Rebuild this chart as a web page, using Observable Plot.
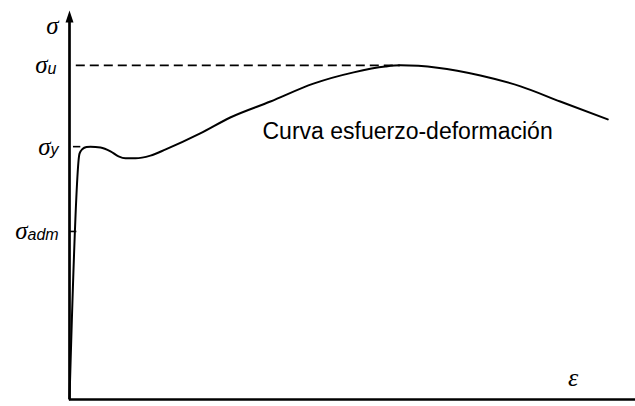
<!DOCTYPE html>
<html>
<head>
<meta charset="utf-8">
<script src="https://cdn.jsdelivr.net/npm/d3@7"></script>
<script src="https://cdn.jsdelivr.net/npm/@observablehq/plot@0.6"></script>
<style>
  html, body { margin: 0; padding: 0; background: #fff; }
  svg { display: block; }
</style>
</head>
<body>
<div id="chart"></div>
<script>
// Strain (ε) and stress (σ) in arbitrary units (0–100)
const strain = [0, 1.77, 2.3, 3.0, 3.71, 5.48, 7.24, 8.66, 9.89, 11.66, 14.3, 17.0, 23.1, 28.4, 35.5, 43.1, 50.2, 55.8, 58.5, 65.0, 72.6, 79.7, 86.7, 95.1];
const stress = [0, 63.2, 64.4, 64.9, 65.0, 64.8, 63.8, 62.5, 62.0, 62.0, 62.7, 64.3, 68.4, 72.5, 76.6, 81.2, 84.1, 85.6, 85.9, 85.3, 83.3, 80.5, 76.6, 72.0];

// Reference stress levels and their labels
const levelNames = ["u", "y", "adm"];
const levelValues = [85.9, 65.0, 43.2];
const ultimateStrain = 58.5;

const axisMax = 100;
const curveLabel = "Curva esfuerzo-deformación";
const curveLabelPos = [34.1, 68.9];
const epsLabelPos = [89, 5.6];
const sigmaLabelY = 96.1;

const curve = strain.map((e, i) => ({e, s: stress[i]}));
const levels = levelNames.map((n, i) => ({n, s: levelValues[i]}));
const lv = Object.fromEntries(levels.map(d => [d.n, d.s]));

const arrowHead = {
  draw(ctx) {
    ctx.moveTo(0, 0);
    ctx.lineTo(-4, 12);
    ctx.lineTo(4, 12);
    ctx.closePath();
  }
};

const serif = "'Liberation Serif', 'Times New Roman', serif";
const sans = "'Liberation Sans', Arial, sans-serif";

function sigmaLabel(sub, s, dxEdge) {
  return [
    Plot.text([{e: 0, s}], {x: "e", y: "s", text: () => "σ", textAnchor: "end", dx: dxEdge, fontSize: 25, fontStyle: "italic", fontFamily: serif, fill: "black"}),
    Plot.text([{e: 0, s}], {x: "e", y: "s", text: () => sub, textAnchor: "start", dx: dxEdge, dy: 3.5, fontSize: 16, fontStyle: "italic", fontFamily: sans, fill: "black"})
  ];
}

const chart = Plot.plot({
  width: 635,
  height: 406,
  marginLeft: 69,
  marginRight: 0,
  marginTop: 10,
  marginBottom: 7,
  x: {domain: [0, axisMax], axis: null},
  y: {domain: [0, axisMax], axis: null},
  style: {background: "white"},
  marks: [
    // axes
    Plot.ruleY([0], {x1: 0, x2: axisMax, stroke: "black", strokeWidth: 2.5}),
    Plot.ruleX([0], {y1: 0, y2: axisMax - 3, stroke: "black", strokeWidth: 2.7}),
    Plot.dot([[0, axisMax]], {symbol: arrowHead, fill: "black", stroke: "none"}),
    // reference levels
    Plot.ruleY([lv.u], {x1: 1.2, x2: ultimateStrain, stroke: "black", strokeWidth: 1.6, strokeDasharray: "9,5"}),
    Plot.ruleY([lv.y], {x1: 0.7, x2: 2.0, stroke: "black", strokeWidth: 1.6}),
    Plot.ruleY([lv.adm], {x1: 0, x2: 1.3, stroke: "black", strokeWidth: 1.6}),
    // stress-strain curve
    Plot.line(curve, {x: "e", y: "s", curve: "monotone-x", stroke: "black", strokeWidth: 2}),
    // labels
    Plot.text([{e: 0, s: sigmaLabelY}], {x: "e", y: "s", text: () => "σ", textAnchor: "end", dx: -11, fontSize: 25, fontStyle: "italic", fontFamily: serif, fill: "black"}),
    ...sigmaLabel("u", lv.u, -22),
    ...sigmaLabel("y", lv.y, -19),
    ...sigmaLabel("adm", lv.adm, -42),
    Plot.text([{e: epsLabelPos[0], s: epsLabelPos[1]}], {x: "e", y: "s", text: () => "ε", textAnchor: "middle", fontSize: 26, fontStyle: "italic", fontFamily: serif, fill: "black"}),
    Plot.text([{e: curveLabelPos[0], s: curveLabelPos[1]}], {x: "e", y: "s", text: () => curveLabel, textAnchor: "start", fontSize: 23, fontFamily: sans, fill: "black"})
  ]
});
document.getElementById("chart").appendChild(chart);
</script>
</body>
</html>
